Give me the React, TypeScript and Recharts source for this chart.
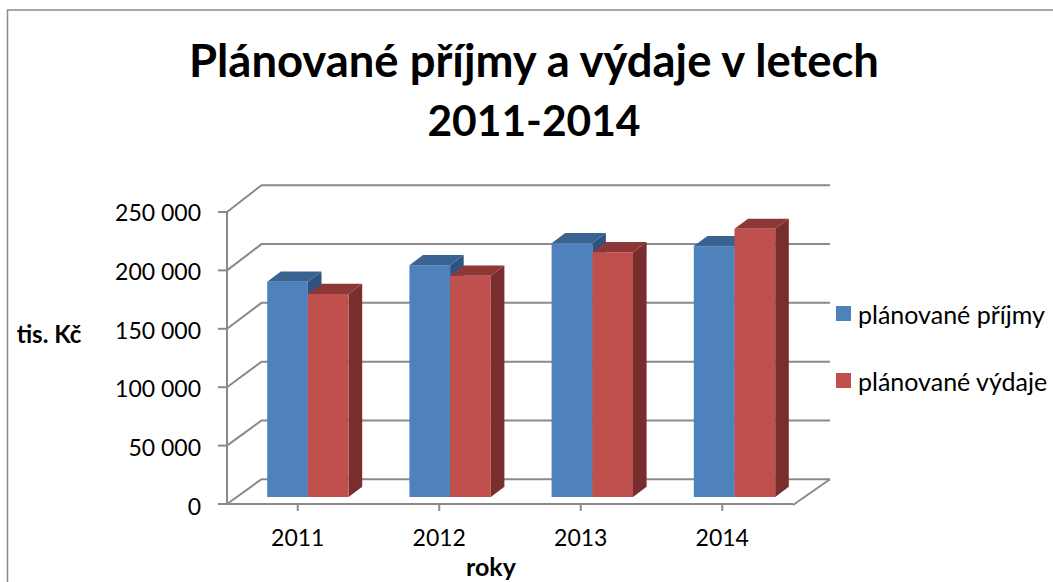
import React from 'react';
import { BarChart, Bar, XAxis, YAxis, Legend, CartesianGrid } from 'recharts';

const years = ['2011', '2012', '2013', '2014'];
const planovanePrijmy = [184300, 198500, 217300, 214800];
const planovaneVydaje = [173800, 189400, 209600, 229600];
const yTicks = [0, 50000, 100000, 150000, 200000, 250000];
const rows = years.map((year, i) => ({ year, prijmy: planovanePrijmy[i], vydaje: planovaneVydaje[i] }));

const FONT = 'Lato, sans-serif';
const GRID = '#8a8a8a';
const PLOT_LEFT = 227;
const BACK_X = 34.5;
const BACK_RIGHT = 830;
const FRONT_RIGHT = 793;
const SHIFT_X = 10.2;
const SHIFT_Y = 7;
const DEPTH_X = 13.6;
const DEPTH_Y = 10.2;

const fmt = (v: number) => String(v).replace(/\B(?=(\d{3})+$)/g, ' ');

function GridLine(props: any) {
  const y = props.y1;
  const backY = y - 24.8 - (504 - y) * 0.0065;
  return (
    <g>
      <path
        d={`M${PLOT_LEFT} ${y} L${PLOT_LEFT + BACK_X} ${backY} L${BACK_RIGHT} ${backY}`}
        fill="none"
        stroke={GRID}
        strokeWidth={2}
      />
      {Math.abs(y - 504) < 2 && (
        <path d={`M${FRONT_RIGHT} ${y + 1} L${BACK_RIGHT} ${backY}`} fill="none" stroke={GRID} strokeWidth={2} />
      )}
    </g>
  );
}

function YTick(props: any) {
  const { y, payload } = props;
  return (
    <text x={201} y={y + 9 + (y - 212) * 0.006} textAnchor="end" fontFamily={FONT} fontSize={23} fill="#000">
      {fmt(payload.value)}
    </text>
  );
}

function Bar3D(props: any) {
  const { x, y, width, height, fill, top, side, index } = props;
  const l = x + SHIFT_X + index * 0.7;
  const r = l + width;
  const t = y - SHIFT_Y;
  const b = t + height;
  return (
    <g>
      <path d={`M${r} ${t} L${r + DEPTH_X} ${t - DEPTH_Y} L${r + DEPTH_X} ${b - DEPTH_Y} L${r} ${b} Z`} fill={side} />
      <path d={`M${l} ${t} L${l + DEPTH_X} ${t - DEPTH_Y} L${r + DEPTH_X} ${t - DEPTH_Y} L${r} ${t} Z`} fill={top} />
      <rect x={l} y={t} width={width} height={height} fill={fill} />
    </g>
  );
}

function LegendBox(props: any) {
  const { payload } = props;
  return (
    <div style={{ fontFamily: FONT, fontSize: 25, color: '#000' }}>
      {(payload || []).map((p: any) => (
        <div key={p.value} style={{ display: 'flex', alignItems: 'center', height: 67, whiteSpace: 'nowrap' }}>
          <span style={{ width: 15, height: 15, background: p.color, marginRight: 7, display: 'inline-block' }} />
          {p.value}
        </div>
      ))}
    </div>
  );
}

export default function App() {
  return (
    <div style={{ position: 'absolute', left: 0, top: 0, width: 1053, height: 582, background: '#fff' }}>
      <BarChart
        width={1053}
        height={582}
        data={rows}
        barGap={0}
        barSize={40.7}
        margin={{ top: 212, right: 260, bottom: 0, left: 0 }}
      >
        <path d="M7.5 582 V10 H1053" fill="none" stroke="#8a8a8a" strokeWidth={1.5} />
        <text x={534} y={77} textAnchor="middle" fontFamily={FONT} fontWeight={700} fontSize={45.4} fill="#000">
          Plánované příjmy a výdaje v letech
        </text>
        <text x={534} y={136} textAnchor="middle" fontFamily={FONT} fontWeight={700} fontSize={42.5} fill="#000">
          2011-2014
        </text>
        <text x={49} y={343} textAnchor="middle" fontFamily={FONT} fontWeight={700} fontSize={24} fill="#000">
          tis. Kč
        </text>
        <text x={491} y={576} textAnchor="middle" fontFamily={FONT} fontWeight={700} fontSize={25} fill="#000">
          roky
        </text>
        <CartesianGrid vertical={false} horizontal={(p: any) => <GridLine {...p} />} />
        <YAxis
          width={227}
          domain={[0, 250000]}
          ticks={yTicks}
          interval={0}
          tick={<YTick />}
          tickSize={9}
          tickLine={{ stroke: GRID, strokeWidth: 2 }}
          axisLine={{ stroke: GRID, strokeWidth: 2 }}
        />
        <XAxis
          dataKey="year"
          height={78}
          interval={0}
          tickSize={7}
          tickMargin={19}
          tick={{ fontFamily: FONT, fontSize: 23, fill: '#000' }}
          tickLine={{ stroke: GRID, strokeWidth: 2 }}
          axisLine={{ stroke: GRID, strokeWidth: 2 }}
        />
        <Bar
          dataKey="prijmy"
          name="plánované příjmy"
          fill="#4F81BD"
          isAnimationActive={false}
          shape={(p: any) => <Bar3D {...p} fill="#4F81BD" top="#3A6391" side="#2F5380" />}
        />
        <Bar
          dataKey="vydaje"
          name="plánované výdaje"
          fill="#C0504D"
          isAnimationActive={false}
          shape={(p: any) => <Bar3D {...p} fill="#C0504D" top="#8C3836" side="#772E2C" />}
        />
        <Legend
          layout="vertical"
          align="center"
          verticalAlign="middle"
          content={<LegendBox />}
          wrapperStyle={{ left: 836, top: 280, width: 217, height: 134, bottom: 'auto', right: 'auto' }}
        />
      </BarChart>
    </div>
  );
}
